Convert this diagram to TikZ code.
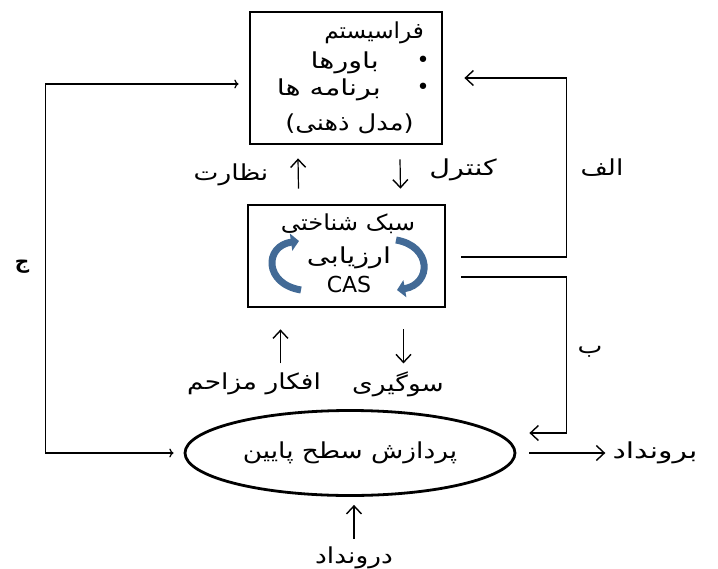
\documentclass[tikz,border=0pt]{standalone}
\usepackage{fontspec}
\setmainfont{DejaVu Sans}
\newfontfamily\farsi[Script=Arabic]{DejaVu Sans}
\TeXXeTstate=1
\usetikzlibrary{arrows,arrows.meta,positioning,calc,shapes}
\definecolor{cycleblue}{RGB}{66,106,150}
\newcommand{\fa}[2][1.2]{\scalebox{#1}[1]{\farsi\beginR #2\endR}}

\begin{document}
\begin{tikzpicture}[x=1pt,y=-1pt,
		box/.style={draw, line width=2.8pt, inner sep=0pt},
		flow/.style={line width=1.2pt, -{Straight Barb[length=8pt,width=15pt,line width=1.4pt]}},
		lbl/.style={font=\fontsize{22}{25}\selectfont, inner sep=1pt},
		cycle/.style={cycleblue, line width=7pt, -{Triangle[length=8pt,width=17pt]}}]
		\useasboundingbox (0,0) rectangle (718,568);
		% boxes
		\node[box, minimum width=192pt, minimum height=132pt] (meta) at (346,78) {};
		\node[box, minimum width=197pt, minimum height=102pt] (cas) at (346.5,256) {};
		\node[ellipse, draw, line width=2.8pt, minimum width=330pt, minimum height=85pt, inner sep=0pt] (low) at (350,453) {};
		% text of the metasystem box
		\node[lbl, anchor=east] (t1) at (425,33) {\fa[1.05]{فراسیستم}};
		\node[lbl] (b1) at (423,62) {•};
		\node[lbl, anchor=east] (t2) at (380,63) {\fa[1.3]{باورها}};
		\node[lbl] (b2) at (423,89) {•};
		\node[lbl, anchor=east] (t3) at (382,90) {\fa[1.3]{برنامه ها}};
		\node[lbl, anchor=east] (t4) at (415,124) {\fa[1.17]{(مدل ذهنی)}};
		% text of the cognitive style box
		\node[lbl] (c1) at (348,224) {\fa[1.1]{سبک شناختی}};
		\node[lbl] (c2) at (349,258) {\fa[1.3]{ارزیابی}};
		\node[lbl] (c3) at (349,284) {CAS};
		\draw[cycle] (301,290) .. controls (264,284) and (264,246) .. (299,241);
		\draw[cycle] (396,240) .. controls (432,246) and (432,284) .. (397,290);
		\node[lbl] (low text) at (low) {\fa{پردازش سطح پایین}};
		% side labels
		\node[lbl] (nazarat) at (231,175) {\fa{نظارت}};
		\node[lbl] (control) at (463,170) {\fa[1.3]{کنترل}};
		\node[lbl] (afkar) at (254,384) {\fa{افکار مزاحم}};
		\node[lbl] (bias) at (398,384) {\fa{سوگیری}};
		\node[lbl] (out) at (655,453) {\fa[1.36]{برونداد}};
		\node[lbl] (in) at (354,558) {\fa{درونداد}};
		\node[lbl] (alef) at (602,168) {\fa{الف}};
		\node[lbl] (be) at (590,352) {\fa{ب}};
		\node[lbl, font=\bfseries\fontsize{20}{24}\selectfont] (jim) at (22,267) {\fa[1]{ج}};
		% arrows between the levels
		\draw[flow] ($(cas.north)+(-48,-15)$) -- ($(meta.south)+(-48,13)$);
		\draw[flow] ($(meta.south)+(54,14)$) -- ($(cas.north)+(54,-15)$);
		\draw[flow] ($(cas.south)+(-66,55)$) -- ($(cas.south)+(-66,21)$);
		\draw[flow] ($(cas.south)+(57,21)$) -- ($(cas.south)+(57,55)$);
		\draw[flow] ($(low.south)+(4,42)$) -- ($(low.south)+(4,8)$);
		\draw[flow, shorten <=13pt] (low.east) -- ($(low.east -| out.west)+(-6,0)$);
		% feedback loops
		\draw[flow] ($(cas.east)+(15,1)$) -- ++(105,0) |- ($(meta.east)+(21,0)$);
		\draw[flow] ($(cas.east)+(15,21)$) -- ++(105,0) |- ($(low.east)+(13,-20)$);
		\draw[flow, <->] ($(meta.west)+(-10,6)$) -- ++(-193,0) |- ($(low.west)+(-10,0)$);
\end{tikzpicture}
\end{document}
